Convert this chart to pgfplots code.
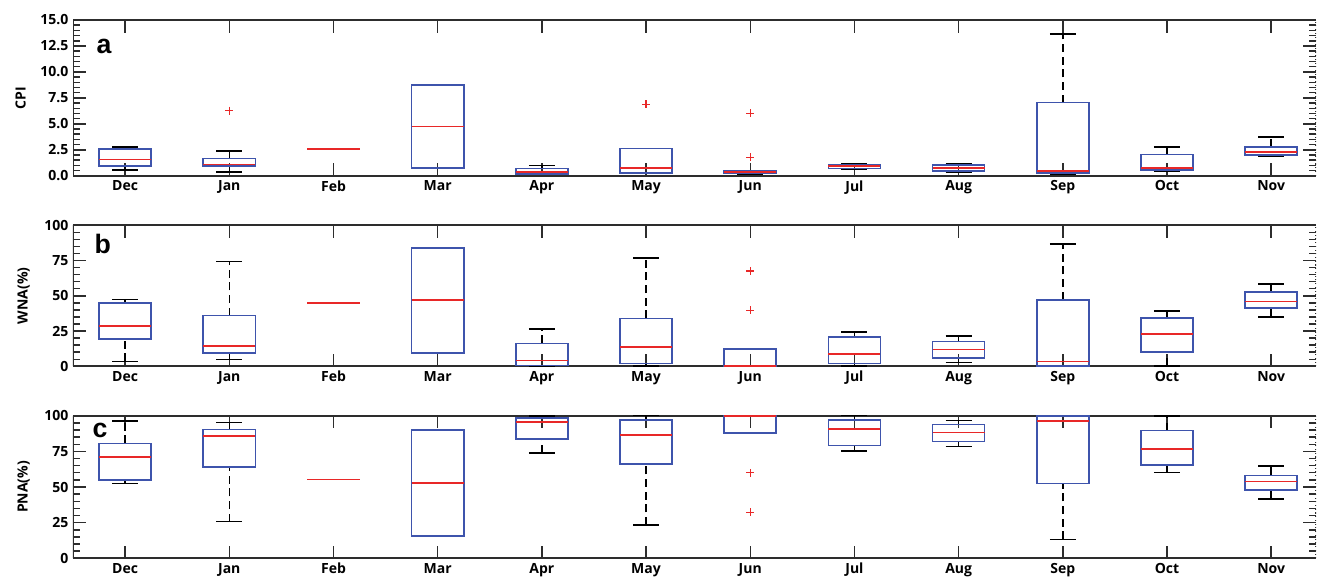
\documentclass[border=0pt]{standalone}
\usepackage{pgfplots}
\pgfplotsset{compat=1.18}
\usepgfplotslibrary{statistics}
\usepackage{fontspec}
\setmainfont{Open Sans}
\newfontfamily\arialfont{Liberation Sans}
\definecolor{boxblue}{RGB}{62,84,172}
\definecolor{medred}{RGB}{232,40,40}
\definecolor{axgray}{RGB}{45,45,45}

\pgfplotsset{
  mydraw/.style={
    boxplot/draw/lower whisker/.code={%
      \draw[black, line width=1.15pt, dash pattern=on 6pt off 3.5pt]
        (boxplot box cs:\pgfplotsboxplotvalue{lower whisker},0.5) -- (boxplot box cs:\pgfplotsboxplotvalue{lower quartile},0.5);
      \draw[black, line width=1.15pt, solid]
        (boxplot box cs:\pgfplotsboxplotvalue{lower whisker},0.25) -- (boxplot box cs:\pgfplotsboxplotvalue{lower whisker},0.75);
    },
    boxplot/draw/upper whisker/.code={%
      \draw[black, line width=1.15pt, dash pattern=on 6pt off 3.5pt]
        (boxplot box cs:\pgfplotsboxplotvalue{upper quartile},0.5) -- (boxplot box cs:\pgfplotsboxplotvalue{upper whisker},0.5);
      \draw[black, line width=1.15pt, solid]
        (boxplot box cs:\pgfplotsboxplotvalue{upper whisker},0.25) -- (boxplot box cs:\pgfplotsboxplotvalue{upper whisker},0.75);
    },
    boxplot/draw/box/.code={%
      \draw[boxblue, line width=1.2pt, solid]
        (boxplot box cs:\pgfplotsboxplotvalue{lower quartile},0) rectangle (boxplot box cs:\pgfplotsboxplotvalue{upper quartile},1);
    },
    boxplot/draw/median/.code={%
      \draw[medred, line width=1.2pt, solid]
        (boxplot box cs:\pgfplotsboxplotvalue{median},0) -- (boxplot box cs:\pgfplotsboxplotvalue{median},1);
    },
  },
  mybox/.style={
    scale only axis,
    width=932.25pt,
    xmin=-0.5, xmax=11.43,
    xtick={0,...,11},
    xticklabels={Dec,Jan,Feb,Mar,Apr,May,Jun,Jul,Aug,Sep,Oct,Nov},
    tick align=inside,
    major tick length=9.5pt,
    minor tick length=5pt,
    minor y tick num=4,
    every tick/.style={axgray, line width=1.1pt},
    separate axis lines,
    every outer x axis line/.append style={axgray, line width=1.4pt},
    every outer y axis line/.append style={draw=none},
    tick label style={font=\bfseries\fontsize{10.5}{12}\selectfont},
    label style={font=\bfseries\fontsize{10.5}{12}\selectfont},
    ylabel shift=4pt,
    /pgf/number format/assume math mode=true,
    boxplot/draw direction=y,
    boxplot/box extend=0.5,
  }
}
% position, lower whisker, lower quartile, median, upper quartile, upper whisker
\newcommand{\bx}[6]{\addplot[boxplot prepared={draw position=#1, lower whisker=#2, lower quartile=#3, median=#4, upper quartile=#5, upper whisker=#6}, mydraw, medred, mark=+, mark size=3pt, mark options={line width=1pt, solid}] coordinates {};}
\newcommand{\bxo}[7]{\addplot[boxplot prepared={draw position=#1, lower whisker=#2, lower quartile=#3, median=#4, upper quartile=#5, upper whisker=#6}, mydraw, medred, mark=+, mark size=3pt, mark options={line width=1pt, solid}] table[row sep=\\, y index=0] {#7};}
\newcommand{\edges}{%
  \draw[axgray, line width=1.4pt] (rel axis cs:0,0) -- (rel axis cs:0,1);
  \draw[axgray, line width=0.8pt, dotted] (rel axis cs:1,0) -- (rel axis cs:1,1);
}

\begin{document}
\begin{tikzpicture}
\useasboundingbox (0,0) rectangle (987.75pt,-434.25pt);

% ---------------- panel a: CPI
\begin{axis}[mybox, at={(54.75pt,-15pt)}, anchor=north west, height=116.8pt,
  ymin=0, ymax=15, ytick={0,2.5,...,15},
  yticklabel style={/pgf/number format/.cd, fixed, fixed zerofill, precision=1},
  ylabel={CPI}]
\bx{0}{0.55}{0.94}{1.55}{2.56}{2.75}
\bxo{1}{0.36}{0.94}{1.10}{1.65}{2.36}{6.26\\}
\bx{2}{2.58}{2.58}{2.58}{2.58}{2.58}
\bx{3}{0.75}{0.75}{4.74}{8.75}{8.75}
\bx{4}{0.14}{0.19}{0.36}{0.68}{0.97}
\bxo{5}{0.23}{0.29}{0.77}{2.61}{2.61}{6.87\\}
\bxo{6}{0.16}{0.23}{0.36}{0.48}{0.52}{6.0\\1.78\\}
\bx{7}{0.62}{0.68}{0.91}{1.01}{1.13}
\bx{8}{0.33}{0.43}{0.72}{1.06}{1.16}
\bx{9}{0.19}{0.29}{0.45}{7.04}{13.65}
\bx{10}{0.39}{0.58}{0.77}{2.03}{2.78}
\bx{11}{1.91}{1.97}{2.29}{2.78}{3.75}
\edges
\node[anchor=base west, font=\arialfont\bfseries\fontsize{20}{24}\selectfont, black] at (rel axis cs:0.0153,0.786) {a};
\end{axis}

% ---------------- panel b: WNA
\begin{axis}[mybox, at={(54.75pt,-168.98pt)}, anchor=north west, height=105.75pt,
  ymin=0, ymax=100, ytick={0,25,...,100},
  ylabel={WNA(\%)}]
\bx{0}{3.5}{19.4}{28.6}{44.7}{47.5}
\bx{1}{4.7}{9.4}{14.2}{35.9}{74.2}
\bx{2}{44.7}{44.7}{44.7}{44.7}{44.7}
\bx{3}{9.4}{9.4}{47.0}{84.1}{84.1}
\bx{4}{0.2}{0.7}{4.0}{16.3}{26.5}
\bx{5}{0.1}{2.1}{13.7}{34.0}{76.8}
\bxo{6}{0.2}{0.2}{0.2}{12.3}{12.3}{67.6\\39.7\\}
\bx{7}{0.2}{2.1}{8.9}{21.0}{24.5}
\bx{8}{2.8}{6.1}{11.8}{17.7}{21.5}
\bx{9}{0.1}{0.1}{3.5}{47.2}{86.7}
\bx{10}{0.4}{10.1}{23.1}{34.3}{39.4}
\bx{11}{35.0}{41.3}{46.1}{52.5}{58.4}
\edges
\node[anchor=base west, font=\arialfont\bfseries\fontsize{20}{24}\selectfont, black] at (rel axis cs:0.0137,0.80) {b};
\end{axis}

% ---------------- panel c: PNA
\begin{axis}[mybox, at={(54.75pt,-311.78pt)}, anchor=north west, height=106.95pt,
  ymin=0, ymax=100, ytick={0,25,...,100},
  ylabel={PNA(\%)}]
\bx{0}{52.6}{55.1}{71.0}{80.6}{96.3}
\bx{1}{25.7}{64.0}{85.8}{90.2}{95.1}
\bx{2}{55.4}{55.4}{55.4}{55.4}{55.4}
\bx{3}{15.6}{15.6}{53.0}{90.0}{90.0}
\bx{4}{73.8}{83.5}{95.6}{98.6}{99.8}
\bx{5}{23.4}{66.1}{86.5}{97.2}{100}
\bxo{6}{87.7}{87.7}{99.8}{100}{100}{60.0\\32.3\\}
\bx{7}{75.2}{79.0}{90.7}{97.2}{100}
\bx{8}{78.5}{82.0}{88.1}{93.7}{96.8}
\bx{9}{13.3}{52.6}{96.1}{100}{100}
\bx{10}{60.3}{65.6}{76.6}{89.5}{99.8}
\bx{11}{41.6}{47.7}{54.0}{58.2}{64.7}
\edges
\node[anchor=base west, font=\arialfont\bfseries\fontsize{20}{24}\selectfont, black] at (rel axis cs:0.012,0.846) {c};
\end{axis}
\end{tikzpicture}
\end{document}
